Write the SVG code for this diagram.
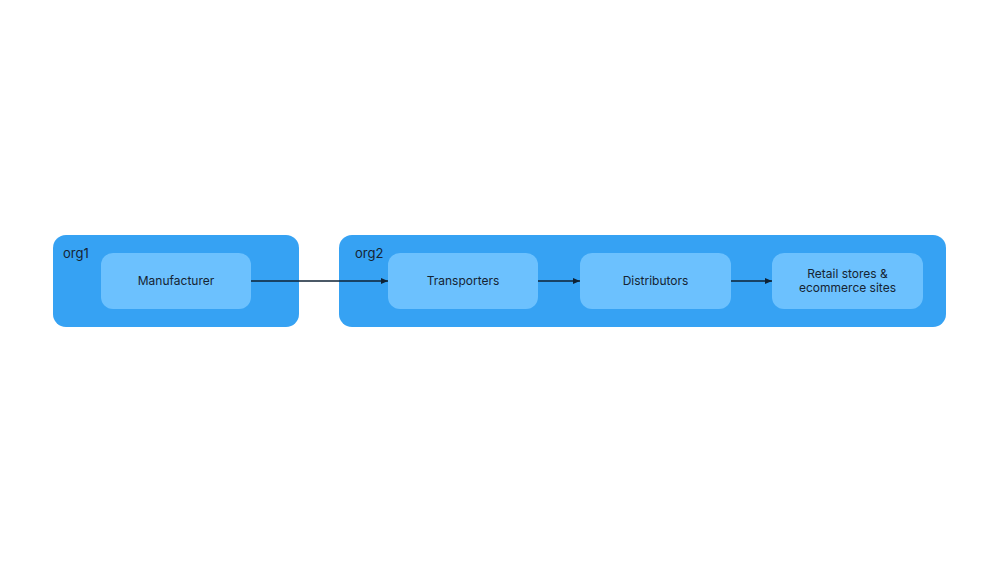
<svg xmlns="http://www.w3.org/2000/svg" width="1000" height="563" viewBox="0 0 1000 563">
<defs>
<style>
.org{fill:#36A2F3;}
.node{fill:#6CC1FE;}
.t{font-family:Inter,"Noto Sans",sans-serif;font-size:12px;fill:#152433;text-anchor:middle;}
.ol{font-family:Inter,"Noto Sans",sans-serif;font-size:13px;fill:#152433;}
.e{stroke:#0f2234;stroke-width:1.5;fill:none;marker-end:url(#ah);}
</style>
<marker id="ah" markerWidth="8" markerHeight="8" refX="7" refY="4" orient="auto" markerUnits="userSpaceOnUse">
<path d="M0,1 L7,4 L0,7 Z" fill="#0f2234"/>
</marker>
</defs>
<rect width="1000" height="563" fill="#fff"/>
<g id="org1">
<rect class="org" x="53" y="235" width="246" height="92" rx="13"/>
<text class="ol" x="63" y="258">org1</text>
</g>
<g id="org2">
<rect class="org" x="339" y="235" width="607" height="92" rx="13"/>
<text class="ol" x="355" y="258">org2</text>
</g>
<g id="manufacturer">
<rect class="node" x="101" y="253" width="150" height="56" rx="12"/>
<text class="t" x="176" y="285">Manufacturer</text>
</g>
<g id="transporters">
<rect class="node" x="388" y="253" width="150" height="56" rx="12"/>
<text class="t" x="463" y="285">Transporters</text>
</g>
<g id="distributors">
<rect class="node" x="580" y="253" width="151" height="56" rx="12"/>
<text class="t" x="655.5" y="285">Distributors</text>
</g>
<g id="retail">
<rect class="node" x="772" y="253" width="151" height="56" rx="12"/>
<text class="t" x="847.5" y="278">Retail stores &amp;</text>
<text class="t" x="847.5" y="292">ecommerce sites</text>
</g>
<g id="connectors">
<path class="e" d="M251,281 H388"/>
<path class="e" d="M538,281 H580"/>
<path class="e" d="M731,281 H772"/>
</g>
</svg>
